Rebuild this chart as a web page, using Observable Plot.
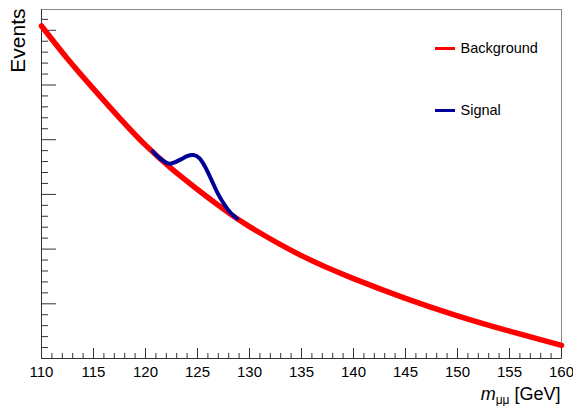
<!DOCTYPE html>
<html><head><meta charset="utf-8">
<script src="https://cdn.jsdelivr.net/npm/d3@7"></script>
<script src="https://cdn.jsdelivr.net/npm/@observablehq/plot@0.6"></script>
<style>
html,body{margin:0;padding:0;background:#fff;}
#chart{width:573px;height:406px;}
</style></head><body><div id="chart"></div>
<script>
// Background fit (arbitrary event units)
const bgMass   = [110, 112.5, 115, 117.5, 120, 122.5, 125, 127.5, 130, 135, 140, 145, 150, 155, 160];
const bgEvents = [6.08, 5.48, 4.93, 4.40, 3.90, 3.47, 3.09, 2.73, 2.41, 1.88, 1.46, 1.10, 0.78, 0.50, 0.24];
// Signal + background shape
const sigMass   = [120.7, 121.2, 122.0, 122.6, 123.4, 124.0, 124.6, 125.2, 125.8, 126.4, 127.0, 127.6, 128.2, 128.8];
const sigEvents = [3.79, 3.69, 3.58, 3.57, 3.64, 3.70, 3.72, 3.66, 3.48, 3.24, 3.00, 2.81, 2.66, 2.56];
// Axis ticks
const xMajor = [110, 115, 120, 125, 130, 135, 140, 145, 150, 155, 160];
const xMinor = d3.range(110, 161, 1).filter(v => v % 5 !== 0);
const yMajor = [0, 1, 2, 3, 4, 5, 6];
const yMinor = d3.range(0, 6.39, 0.2).filter(v => Math.abs(v - Math.round(v)) > 1e-6);
// Legend
const legendNames  = ["Background", "Signal"];
const legendColors = ["#ff0000", "#000099"];

const W = 573, H = 406, mL = 41, mR = 12, mT = 9, mB = 48;
const fw = W - mL - mR, fh = H - mT - mB;
const FONT = "'Liberation Sans', Arial, Helvetica, sans-serif";
const XLABEL = "__xlabel__";

const bg = bgMass.map((m, i) => ({m, e: bgEvents[i]}));
const sig = sigMass.map((m, i) => ({m, e: sigEvents[i]}));

const legendMarks = [];
legendNames.forEach((name, i) => {
  const yc = [48, 110][i];
  legendMarks.push(Plot.ruleY([name], {y: null, stroke: legendColors[i], strokeWidth: 3,
    insetLeft: 394, insetRight: 106, dy: yc - (mT + fh / 2)}));
  legendMarks.push(Plot.text([name], {text: d => d, frameAnchor: "top-right", dx: -101, dy: yc - mT,
    textAnchor: "start", lineAnchor: "middle", fontSize: 14.5, fill: "#000"}));
});

const chart = Plot.plot({
  width: W, height: H,
  marginLeft: mL, marginRight: mR, marginTop: mT, marginBottom: mB,
  style: {fontFamily: FONT, background: "#fff"},
  x: {domain: [110, 160], axis: null},
  y: {domain: [0, 6.38], axis: null},
  marks: [
    Plot.frame({stroke: "#888", strokeWidth: 1}),
    Plot.ruleX([110], {stroke: "#333"}),
    Plot.ruleY([0], {stroke: "#333"}),
    Plot.ruleX(xMajor, {stroke: "#333", insetTop: fh - 10}),
    Plot.ruleX(xMinor, {stroke: "#333", insetTop: fh - 5}),
    Plot.ruleY(yMajor, {stroke: "#333", insetRight: fw - 15}),
    Plot.ruleY(yMinor, {stroke: "#333", insetRight: fw - 7}),
    Plot.text(xMajor, {x: d => d, frameAnchor: "bottom", dy: 8, text: d => String(d),
      lineAnchor: "top", fontSize: 15, fill: "#000"}),
    Plot.line(bg, {x: "m", y: "e", stroke: "#ff0000", strokeWidth: 5.5, curve: "natural"}),
    Plot.line(sig, {x: "m", y: "e", stroke: "#000099", strokeWidth: 4, curve: "natural"}),
    ...legendMarks,
    Plot.text(["Events"], {text: d => d, frameAnchor: "top-left", dx: -23, dy: -1, rotate: -90,
      textAnchor: "end", lineAnchor: "middle", fontSize: 21, fill: "#000"}),
    Plot.text([XLABEL], {text: d => d, frameAnchor: "bottom-right", dx: -1, dy: 36,
      textAnchor: "end", lineAnchor: "middle", fontSize: 18, fill: "#000"})
  ]
});

// rich x-axis title: italic m with subscript μμ
d3.select(chart).selectAll("text").filter(function() { return this.textContent === XLABEL; })
  .each(function() {
    const t = d3.select(this);
    t.text(null);
    t.append("tspan").attr("font-style", "italic").text("m");
    t.append("tspan").attr("font-size", 12).attr("dy", 4).text("μμ");
    t.append("tspan").attr("dy", -4).text(" [GeV]");
  });

document.getElementById("chart").appendChild(chart);
</script>
</body></html>
